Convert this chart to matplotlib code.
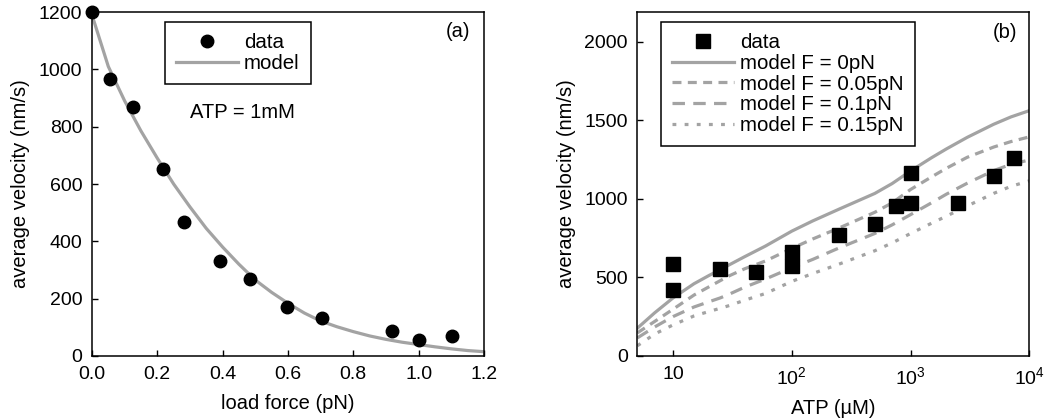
import numpy as np
import matplotlib
matplotlib.use("Agg")
import matplotlib.pyplot as plt
from matplotlib.ticker import FixedLocator, FixedFormatter, NullLocator

plt.rcParams['font.family'] = ['Liberation Sans', 'DejaVu Sans']
plt.rcParams['mathtext.fontset'] = 'custom'
plt.rcParams['mathtext.rm'] = 'Liberation Sans'
plt.rcParams['mathtext.default'] = 'regular'
plt.rcParams['font.size'] = 14

# ---- panel (a): velocity vs load force at ATP = 1mM
force_data = [0.0, 0.056, 0.125, 0.217, 0.283, 0.393, 0.484, 0.598, 0.704, 0.918, 1.002, 1.101]
vel_data = [1200, 966, 867, 652, 467, 333, 268, 170, 133, 88, 55, 69]

force_model = [0.0, 0.05, 0.1, 0.15, 0.2, 0.25, 0.3, 0.35, 0.4, 0.45, 0.5, 0.55,
               0.6, 0.65, 0.7, 0.75, 0.8, 0.85, 0.9, 0.95, 1.0, 1.05, 1.1, 1.15, 1.2]
vel_model = [1190, 1010, 890, 785, 690, 600, 520, 445, 380, 320, 265, 222,
             184, 150, 122, 102, 85, 70, 58, 48, 40, 32, 25, 19, 15]

# ---- panel (b): velocity vs ATP concentration
atp_data = [10, 10, 25, 50, 100, 100, 250, 500, 750, 1000, 1000, 2500, 5000, 7500]
vel_atp_data = [584, 417, 557, 535, 665, 570, 770, 840, 955, 976, 1163, 976, 1146, 1258]

atp_model = [5, 7, 10, 15, 20, 25, 30, 40, 60, 100, 150, 250, 500, 700, 1000,
             1500, 2000, 3000, 5000, 7000, 10000]
model_f0 = [177, 275, 370, 460, 512, 550, 582, 632, 700, 795, 860, 935, 1035, 1098, 1178,
            1262, 1318, 1392, 1475, 1522, 1562]
model_f005 = [147, 220, 298, 388, 440, 480, 512, 555, 605, 685, 745, 815, 915, 975, 1060,
              1140, 1195, 1265, 1330, 1365, 1395]
model_f01 = [115, 185, 251, 312, 345, 370, 395, 438, 490, 562, 615, 688, 780, 835, 900,
             975, 1030, 1100, 1180, 1220, 1248]
model_f015 = [65, 140, 198, 255, 283, 304, 322, 355, 398, 475, 525, 585, 670, 720, 780,
              845, 890, 955, 1035, 1080, 1115]

grey = '#a3a3a3'
lw = 2.3
fs = 14.5
leg_fs = 14.8

fig = plt.figure(figsize=(10.5, 4.2), dpi=100)
ax1 = fig.add_axes([0.0876, 0.1524, 0.3733, 0.819])
ax2 = fig.add_axes([0.607, 0.1524, 0.3733, 0.819])

for ax in (ax1, ax2):
    ax.tick_params(direction='in', length=4, width=1, pad=7, labelsize=14,
                   top=False, right=False)
    for s in ax.spines.values():
        s.set_linewidth(1.1)

leg_kw = dict(loc='upper left', borderaxespad=0, fancybox=False, edgecolor='black',
              framealpha=1, handlelength=3.0, handletextpad=0.3, labelspacing=0.08,
              borderpad=0.55, fontsize=leg_fs)

# panel (a)
ax1.plot(force_model, vel_model, color=grey, lw=lw, label='model', zorder=2)
ax1.plot(force_data, vel_data, 'o', color='black', ms=9, label='data',
         clip_on=False, zorder=3)
ax1.set_xlim(0, 1.2)
ax1.set_ylim(0, 1200)
ax1.set_xticks(np.arange(0, 1.21, 0.2))
ax1.set_xticklabels(['%.1f' % v for v in np.arange(0, 1.21, 0.2)])
ax1.set_yticks(range(0, 1201, 200))
ax1.set_xlabel('load force (pN)', fontsize=fs, labelpad=8)
ax1.set_ylabel('average velocity (nm/s)', fontsize=fs, labelpad=6)
h, l = ax1.get_legend_handles_labels()
leg1 = ax1.legend(h[::-1], l[::-1], bbox_to_anchor=(0.186, 0.971), **leg_kw)
leg1.get_frame().set_linewidth(1.1)
ax1.text(0.383, 0.709, 'ATP = 1mM', transform=ax1.transAxes, ha='center',
         va='center', fontsize=fs)
ax1.text(0.934, 0.942, '(a)', transform=ax1.transAxes, ha='center',
         va='center', fontsize=fs)

# panel (b)
ax2.plot(atp_data, vel_atp_data, 's', color='black', ms=10, label='data', zorder=3)
ax2.plot(atp_model, model_f0, color=grey, lw=lw, label='model F = 0pN')
ax2.plot(atp_model, model_f005, color=grey, lw=lw, dashes=(2.8, 2.0),
         label='model F = 0.05pN')
ax2.plot(atp_model, model_f01, color=grey, lw=lw, dashes=(3.9, 2.6),
         label='model F = 0.1pN')
ax2.plot(atp_model, model_f015, color=grey, lw=lw, dashes=(1.2, 2.6),
         label='model F = 0.15pN')
ax2.set_xscale('log')
ax2.set_xlim(5, 10000)
ax2.set_ylim(0, 2190)
ax2.xaxis.set_major_locator(FixedLocator([10, 100, 1000, 10000]))
ax2.xaxis.set_major_formatter(FixedFormatter(['10', '$10^2$', '$10^3$', '$10^4$']))
ax2.xaxis.set_minor_locator(NullLocator())
ax2.set_yticks(range(0, 2001, 500))
ax2.set_xlabel('ATP (µM)', fontsize=fs, labelpad=8)
ax2.set_ylabel('average velocity (nm/s)', fontsize=fs, labelpad=6)
leg2 = ax2.legend(bbox_to_anchor=(0.06, 0.971), **leg_kw)
leg2.get_frame().set_linewidth(1.1)
ax2.text(0.937, 0.939, '(b)', transform=ax2.transAxes, ha='center',
         va='center', fontsize=fs)

fig.savefig('out.png', dpi=100)
